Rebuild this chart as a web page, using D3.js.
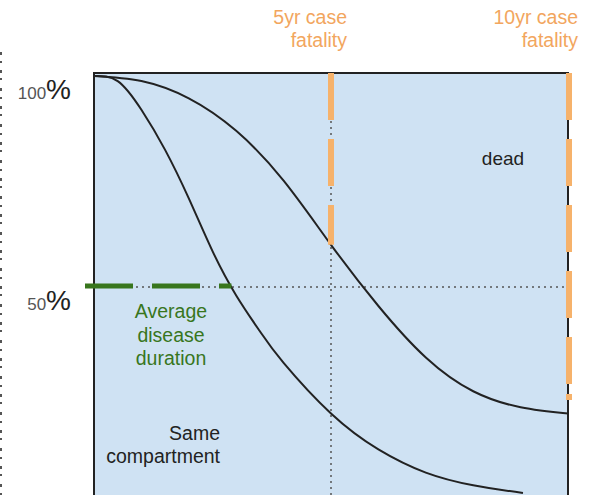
<!DOCTYPE html>
<html>
<head>
<meta charset="utf-8">
<script src="https://cdn.jsdelivr.net/npm/d3@7"></script>
<style>
  html, body { margin: 0; padding: 0; background: #fff; }
  svg { display: block; font-family: "Liberation Sans", Arial, sans-serif; }
</style>
</head>
<body>
<svg id="chart" width="593" height="495"></svg>
<script>
// Survival over time (years since onset), in percent still alive
const fastYears    = [0, 0.5, 1, 1.5, 2, 2.5, 3, 3.5, 4, 5, 6, 7, 8, 9.05];
const fastSurvival = [100, 98.8, 92, 82.5, 71, 58.5, 48, 39.5, 32, 20, 11.5, 6, 3, 1.2];
const slowYears    = [0, 1, 2, 3, 4, 5, 6, 7, 8, 9, 10];
const slowSurvival = [100, 98.8, 94.7, 87, 75.2, 60, 45.5, 33.3, 25.3, 21.5, 20];

// Reference markers
const fatalityYears  = [5, 10];
const fatalityLabels = [["5yr case", "fatality"], ["10yr case", "fatality"]];
const medianDuration = 2.9;   // years at which half have died (fast course)
const yTicks       = [100, 50];
const yTickLabels  = ["100", "50"];

const svg = d3.select("#chart");
const W = 593, H = 495;

const x = d3.scaleLinear().domain([0, 10]).range([94, 568]);
const y = d3.scaleLinear().domain([0, 100]).range([498, 76]);

const boxTop = y(100) - 3;

// Panel background
svg.append("rect")
  .attr("x", x(0)).attr("y", boxTop)
  .attr("width", x(10) - x(0)).attr("height", H - boxTop + 5)
  .attr("fill", "#cfe2f3");

// Cropped marks along the far left edge
svg.append("line")
  .attr("x1", 1).attr("x2", 1).attr("y1", 52).attr("y2", H)
  .attr("stroke", "#555").attr("stroke-width", 2)
  .attr("stroke-dasharray", "3 6 2 7 3 5 2 8");

// Dotted guide lines: 50% level and 5-year mark
svg.append("line")
  .attr("x1", x(0)).attr("x2", x(10))
  .attr("y1", y(50)).attr("y2", y(50))
  .attr("stroke", "#555").attr("stroke-width", 1.5)
  .attr("stroke-dasharray", "2 4");
svg.append("line")
  .attr("x1", x(5)).attr("x2", x(5))
  .attr("y1", boxTop).attr("y2", H)
  .attr("stroke", "#555").attr("stroke-width", 1.5)
  .attr("stroke-dasharray", "2 4");

// Panel border (top, left, right)
const border = svg.append("g").attr("stroke", "#222").attr("stroke-width", 2).attr("fill", "none");
border.append("path")
  .attr("d", `M${x(0)},${H}V${boxTop}H${x(10)}V${H}`);

// Survival curves
const line = d3.line()
  .x(d => x(d[0])).y(d => y(d[1]))
  .curve(d3.curveNatural);

svg.append("path")
  .datum(slowYears.map((t, i) => [t, slowSurvival[i]]))
  .attr("d", line)
  .attr("fill", "none").attr("stroke", "#222").attr("stroke-width", 2);

svg.append("path")
  .datum(fastYears.map((t, i) => [t, fastSurvival[i]]))
  .attr("d", line)
  .attr("fill", "none").attr("stroke", "#222").attr("stroke-width", 2);

// Case-fatality markers (orange dashes down to the slow curve)
const slowAt = t => slowSurvival[slowYears.indexOf(t)];
svg.append("line")
  .attr("x1", x(fatalityYears[0])).attr("x2", x(fatalityYears[0]))
  .attr("y1", boxTop).attr("y2", y(slowAt(fatalityYears[0])))
  .attr("stroke", "#f6b26b").attr("stroke-width", 6)
  .attr("stroke-dasharray", "47 19");
svg.append("line")
  .attr("x1", x(fatalityYears[1]) + 1).attr("x2", x(fatalityYears[1]) + 1)
  .attr("y1", boxTop).attr("y2", y(slowAt(fatalityYears[1])))
  .attr("stroke", "#f6b26b").attr("stroke-width", 6)
  .attr("stroke-dasharray", "47 19 47 19 47 19 47 19 47 10 6 40");

// Average disease duration marker (green dashes up to the fast curve)
svg.append("line")
  .attr("x1", 85).attr("x2", x(medianDuration))
  .attr("y1", y(50) - 1).attr("y2", y(50) - 1)
  .attr("stroke", "#38761d").attr("stroke-width", 5)
  .attr("stroke-dasharray", "48 19");

// Fatality labels above the panel
fatalityYears.forEach((t, i) => {
  const tx = svg.append("text")
    .attr("text-anchor", "end")
    .attr("fill", "#f2a65e")
    .attr("font-size", 19.5);
  const xr = i === 0 ? x(t) + 16 : x(t) + 10;
  fatalityLabels[i].forEach((s, j) => {
    tx.append("tspan").attr("x", xr).attr("y", 24 + j * 23).text(s);
  });
});

// Y tick labels: numeral plus a larger percent sign
yTicks.forEach((v, i) => {
  const t = svg.append("text")
    .attr("text-anchor", "end")
    .attr("x", 71).attr("y", y(v) + 23);
  t.append("tspan").attr("fill", "#555").attr("font-size", 17).text(yTickLabels[i]);
  t.append("tspan").attr("fill", "#222").attr("font-size", 28).text("%");
});

// Annotations inside the panel
svg.append("text")
  .attr("x", 503).attr("y", 165)
  .attr("text-anchor", "middle")
  .attr("fill", "#222").attr("font-size", 19)
  .text("dead");

const avg = svg.append("text")
  .attr("text-anchor", "middle")
  .attr("fill", "#38761d").attr("font-size", 19.5);
["Average", "disease", "duration"].forEach((s, j) => {
  avg.append("tspan").attr("x", 171).attr("y", 318 + j * 23.5).text(s);
});

const same = svg.append("text")
  .attr("text-anchor", "end")
  .attr("fill", "#222").attr("font-size", 19.5);
["Same", "compartment"].forEach((s, j) => {
  same.append("tspan").attr("x", 220).attr("y", 440 + j * 23).text(s);
});
</script>
</body>
</html>
